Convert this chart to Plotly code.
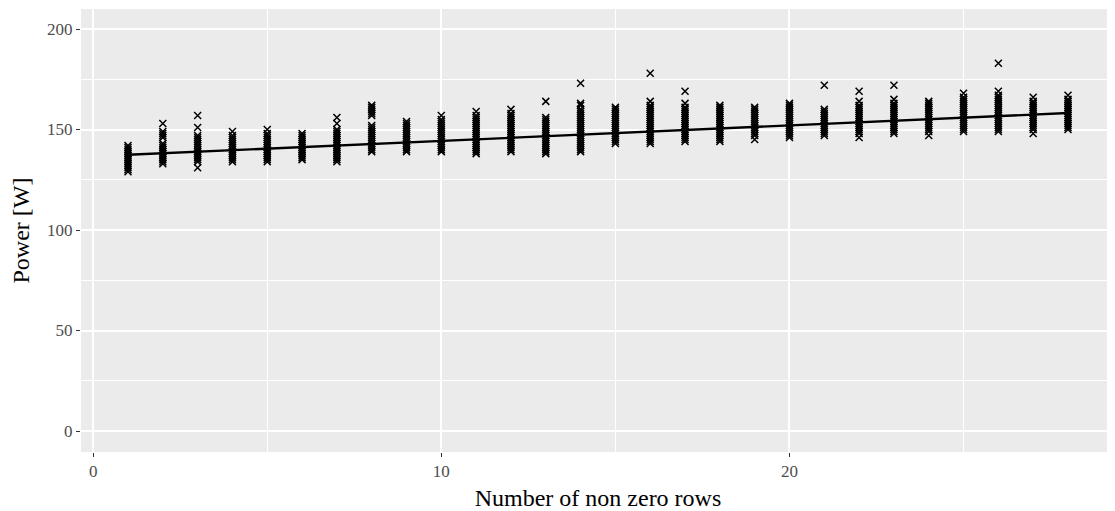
import plotly.graph_objects as go

# Measured power values per number of non-zero rows
col_x = list(range(1, 29))
col_values = [
    [129, 130, 131, 132, 133, 134, 135, 136, 137, 138, 139, 140, 141, 142],
    [133, 134, 135, 136, 137, 138, 139, 140, 141, 142, 143, 146, 147, 148, 149, 153],
    [131, 134, 135, 136, 137, 138, 139, 140, 141, 142, 143, 144, 145, 146, 147, 151, 157],
    [134, 135, 136, 137, 138, 139, 140, 141, 142, 143, 144, 145, 146, 147, 149],
    [134, 135, 136, 137, 138, 139, 140, 141, 142, 143, 144, 145, 146, 147, 148, 150],
    [135, 136, 137, 138, 139, 140, 141, 142, 143, 144, 145, 146, 147, 148],
    [134, 135, 136, 137, 138, 139, 140, 141, 142, 143, 144, 145, 146, 147, 148, 149, 150, 153, 156],
    [139, 140, 141, 142, 143, 144, 145, 146, 147, 148, 149, 150, 151, 152, 157, 158, 159, 160, 161, 162],
    [139, 140, 141, 142, 143, 144, 145, 146, 147, 148, 149, 150, 151, 152, 153, 154],
    [139, 140, 141, 142, 143, 144, 145, 146, 147, 148, 149, 150, 151, 152, 153, 154, 155, 157],
    [138, 139, 140, 141, 142, 143, 144, 145, 146, 147, 148, 149, 150, 151, 152, 153, 154, 155, 156, 157, 159],
    [139, 140, 141, 142, 143, 144, 145, 146, 147, 148, 149, 150, 151, 152, 153, 154, 155, 156, 157, 158, 160],
    [138, 139, 140, 141, 142, 143, 144, 145, 146, 147, 148, 149, 150, 151, 152, 153, 154, 155, 156, 164],
    [139, 140, 141, 142, 143, 144, 145, 146, 147, 148, 149, 150, 151, 152, 153, 154, 155, 156, 157, 158, 159, 160, 162, 163, 173],
    [143, 144, 145, 146, 147, 148, 149, 150, 151, 152, 153, 154, 155, 156, 157, 158, 159, 160, 161],
    [143, 144, 145, 146, 147, 148, 149, 150, 151, 152, 153, 154, 155, 156, 157, 158, 159, 160, 161, 162, 164, 178],
    [144, 145, 146, 147, 148, 149, 150, 151, 152, 153, 154, 155, 156, 157, 158, 159, 160, 161, 163, 169],
    [144, 145, 146, 147, 148, 149, 150, 151, 152, 153, 154, 155, 156, 157, 158, 159, 160, 161, 162],
    [145, 147, 148, 149, 150, 151, 152, 153, 154, 155, 156, 157, 158, 159, 160, 161],
    [146, 147, 148, 149, 150, 151, 152, 153, 154, 155, 156, 157, 158, 159, 160, 161, 162, 163],
    [147, 148, 149, 150, 151, 152, 153, 154, 155, 156, 157, 158, 159, 160, 172],
    [146, 148, 149, 150, 151, 152, 153, 154, 155, 156, 157, 158, 159, 160, 161, 162, 164, 169],
    [148, 149, 150, 151, 152, 153, 154, 155, 156, 157, 158, 159, 160, 161, 162, 163, 165, 172],
    [147, 149, 150, 151, 152, 153, 154, 155, 156, 157, 158, 159, 160, 161, 162, 163, 164],
    [149, 150, 151, 152, 153, 154, 155, 156, 157, 158, 159, 160, 161, 162, 163, 164, 165, 166, 168],
    [149, 150, 151, 152, 153, 154, 155, 156, 157, 158, 159, 160, 161, 162, 163, 164, 165, 166, 167, 169, 183],
    [148, 150, 151, 152, 153, 154, 155, 156, 157, 158, 159, 160, 161, 162, 163, 164, 166],
    [150, 151, 152, 153, 154, 155, 156, 157, 158, 159, 160, 161, 162, 163, 164, 165, 167],
]

# Linear fit line endpoints
fit_x = [1, 28]
fit_y = [137.4, 158.2]

x_ticks = [0, 10, 20]
y_ticks = [0, 50, 100, 150, 200]

pts_x, pts_y = [], []
for xv, vals in zip(col_x, col_values):
    for v in vals:
        pts_x.append(xv)
        pts_y.append(v)

FONT = "Liberation Serif"

fig = go.Figure()
fig.add_trace(go.Scatter(
    x=pts_x, y=pts_y, mode="markers",
    marker=dict(symbol="x-thin", size=7, color="black",
                line=dict(color="black", width=1.5)),
    showlegend=False, hoverinfo="skip",
))
fig.add_trace(go.Scatter(
    x=fit_x, y=fit_y, mode="lines",
    line=dict(color="black", width=2.4), showlegend=False,
))

axis_common = dict(
    showgrid=True, gridcolor="white", gridwidth=1.6,
    zeroline=False, showline=False,
    ticks="outside", ticklen=4, tickwidth=1.4, tickcolor="#333333",
    tickfont=dict(family=FONT, size=17, color="#4D4D4D"),
    automargin=False,
)

fig.update_layout(
    width=1107, height=503,
    margin=dict(l=73, r=0, t=1, b=59),
    paper_bgcolor="white", plot_bgcolor="#EBEBEB",
    font=dict(family=FONT),
    xaxis=dict(
        range=[-0.35, 29.35], tickvals=x_ticks,
        minor=dict(dtick=5, tick0=0, showgrid=True, gridcolor="white", gridwidth=0.8, ticks=""),
        title=dict(text="Number of non zero rows", font=dict(family=FONT, size=24, color="black"), standoff=8),
        **axis_common,
    ),
    yaxis=dict(
        range=[-10.45, 209.95], tickvals=y_ticks,
        minor=dict(dtick=25, tick0=0, showgrid=True, gridcolor="white", gridwidth=0.8, ticks=""),
        title=dict(text="Power [W]", font=dict(family=FONT, size=24, color="black"), standoff=12),
        **axis_common,
    ),
)

fig.write_html("out.html")
